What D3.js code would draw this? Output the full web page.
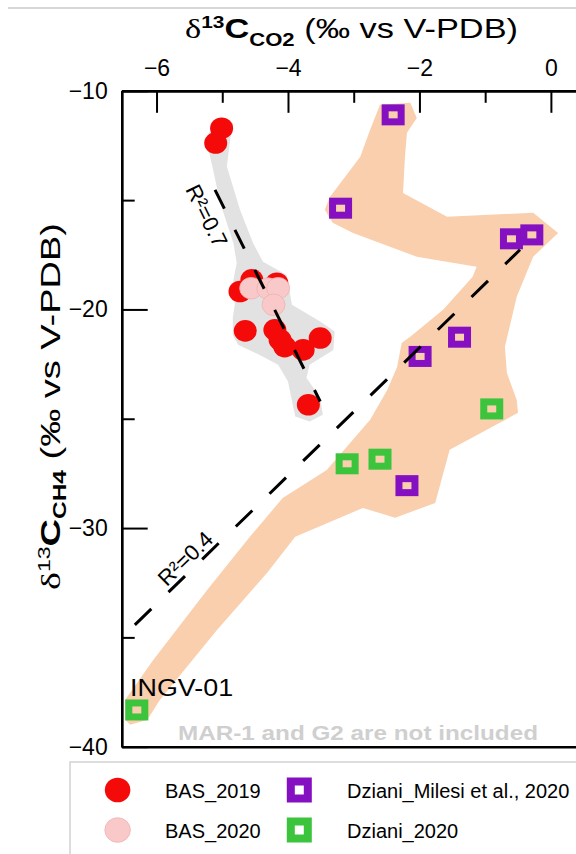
<!DOCTYPE html>
<html>
<head>
<meta charset="utf-8">
<script src="https://cdn.jsdelivr.net/npm/d3@7"></script>
<style>
  html, body { margin: 0; padding: 0; background: #fff; overflow: hidden; }
  svg { display: block; overflow: hidden; font-family: "Liberation Sans", Arial, sans-serif; }
</style>
</head>
<body>
<svg id="chart" width="576" height="854"></svg>
<script>
// δ13C of CO2 (x) against δ13C of CH4 (y), ‰ vs V-PDB

// BAS_2019 samples [δ13C-CO2, δ13C-CH4]
const bas2019 = [
  [-5.01, -11.71], [-5.10, -12.39], [-4.55, -18.65], [-4.17, -18.80],
  [-4.73, -19.18], [-4.65, -20.98], [-4.20, -20.93], [-4.12, -21.39],
  [-4.05, -21.70], [-3.77, -21.85], [-3.51, -21.31], [-3.69, -24.36]
];
// BAS_2020 samples
const bas2020 = [
  [-4.56, -19.03], [-4.30, -19.05], [-4.15, -19.03], [-4.22, -19.79]
];
// Dziani, Milesi et al., 2020
const dzianiMilesi = [
  [-2.40, -11.10], [-3.20, -15.37], [-0.60, -16.77], [-0.29, -16.59],
  [-1.39, -21.27], [-1.99, -22.15], [-2.19, -28.06]
];
// Dziani_2020 (the first one is INGV-01)
const dziani2020 = [
  [-6.30, -38.32], [-0.90, -24.55], [-3.10, -27.06], [-2.60, -26.85]
];

// Envelope around the BAS samples
const basEnvelope = [
  [-5.21, -11.94], [-5.03, -11.33], [-4.83, -11.48], [-4.88, -12.24],
  [-4.93, -13.46], [-4.73, -15.44], [-4.53, -16.97], [-4.38, -17.82],
  [-4.02, -18.42], [-3.94, -19.79], [-3.51, -20.55], [-3.29, -21.01],
  [-3.31, -21.85], [-3.67, -22.53], [-3.72, -23.13], [-3.51, -24.04],
  [-3.47, -24.82], [-3.67, -25.13], [-3.89, -24.90], [-4.00, -23.30],
  [-4.15, -22.53], [-4.43, -22.08], [-4.76, -21.62], [-4.84, -21.16],
  [-4.84, -20.38], [-4.81, -19.79], [-4.83, -18.65], [-4.78, -17.88],
  [-4.83, -16.97], [-5.03, -15.14], [-5.14, -13.61], [-5.21, -12.70]
];
// Envelope around the Dziani samples
const dzianiEnvelope = [
  [-2.60, -10.64], [-2.75, -11.78], [-2.90, -13.02], [-3.36, -14.85],
  [-3.44, -15.44], [-3.32, -16.04], [-3.01, -16.50], [-2.04, -17.59],
  [-1.13, -18.05], [-1.19, -18.51], [-1.64, -20.02], [-2.14, -21.25],
  [-2.27, -21.53], [-2.34, -22.63], [-2.49, -23.68], [-2.75, -25.05],
  [-3.41, -27.34], [-4.08, -28.62], [-4.58, -30.40], [-5.23, -32.83],
  [-6.05, -36.03], [-6.48, -37.86], [-6.48, -38.77], [-6.40, -39.00],
  [-6.14, -38.77], [-5.95, -37.86], [-5.08, -34.66], [-4.32, -32.05],
  [-3.89, -30.40], [-2.86, -29.08], [-2.37, -29.53], [-1.76, -28.85],
  [-1.54, -26.42], [-0.50, -24.73], [-0.52, -24.14], [-0.67, -22.90],
  [-0.70, -21.71], [-0.52, -19.42], [-0.27, -17.59], [0.11, -16.50],
  [-0.27, -15.58], [-1.58, -15.76], [-2.25, -14.67], [-2.22, -13.02],
  [-2.19, -11.92], [-2.04, -11.24], [-2.14, -10.55]
];

// Regression trends: end points and label anchor
const trendNames = ["R²=0.7", "R²=0.4"];
const trendStart = [[-5.11, -14.53], [-6.33, -34.43]];
const trendEnd = [[-3.51, -24.21], [-0.47, -17.27]];
const trendLabelAt = [[-5.24, -15.72], [-5.56, -31.40]];

// Axis ticks
const xMajorTicks = [-6, -4, -2, 0];
const xMinorTicks = [-5, -3, -1];
const yMajorTicks = [-10, -20, -30, -40];
const yMinorTicks = [-15, -25, -35];

const legendNames = ["BAS_2019", "BAS_2020", "Dziani_Milesi et al., 2020", "Dziani_2020"];
const sampleLabel = "INGV-01";
const footNote = "MAR-1 and G2 are not included";

// ---------------------------------------------------------------
const W = 576;
const svg = d3.select("#chart");
// visible part of the plot: its right side is cut by the page edge
const x = d3.scaleLinear().domain([-6.53, 0.382]).range([121.7, W]);
const y = d3.scaleLinear().domain([-10, -40]).range([90.8, 746.7]);

const RED = "#f50a0a", PINK = "#f9c8c8", PURPLE = "#8410c2", GREEN = "#3cc43c";
const fmt = d3.format("d");

// thin rule across the top of the figure
svg.append("line")
  .attr("x1", 8).attr("x2", W).attr("y1", 8).attr("y2", 8)
  .attr("stroke", "#c9c9c9").attr("stroke-width", 1.5);

// envelopes
const area = d3.line().x(d => x(d[0])).y(d => y(d[1])).curve(d3.curveLinearClosed);
svg.append("path").attr("d", area(dzianiEnvelope)).attr("fill", "#f9cfae");
svg.append("path").attr("d", area(basEnvelope)).attr("fill", "#e2e2e2");

// axes
const axisStyle = g => {
  g.select(".domain").attr("stroke", "#000").attr("stroke-width", 2.4);
  g.selectAll(".tick line").attr("stroke", "#000").attr("stroke-width", 2);
  g.selectAll(".tick text").attr("fill", "#000")
    .attr("font-family", "'Liberation Sans', Arial, sans-serif").attr("font-size", 23);
};

svg.append("g").attr("transform", `translate(0,${y(-10)})`)
  .call(d3.axisTop(x).tickValues(xMinorTicks).tickSizeInner(-12).tickSizeOuter(0).tickFormat(""))
  .call(axisStyle);
svg.append("g").attr("transform", `translate(0,${y(-10)})`)
  .call(d3.axisTop(x).tickValues(xMajorTicks).tickSizeInner(-22).tickSizeOuter(0)
    .tickPadding(15).tickFormat(fmt))
  .call(axisStyle);

svg.append("g").attr("transform", `translate(${x(-6.53)},0)`)
  .call(d3.axisLeft(y).tickValues(yMinorTicks).tickSizeInner(-13).tickSizeOuter(0).tickFormat(""))
  .call(axisStyle);
svg.append("g").attr("transform", `translate(${x(-6.53)},0)`)
  .call(d3.axisLeft(y).tickValues(yMajorTicks).tickSizeInner(-26).tickSizeOuter(0)
    .tickPadding(14).tickFormat(fmt))
  .call(axisStyle);

svg.append("g").attr("transform", `translate(0,${y(-40)})`)
  .call(d3.axisBottom(x).tickValues([]).tickSizeOuter(0))
  .call(axisStyle);

// axis titles
const topTitle = svg.append("text")
  .attr("x", 185).attr("y", 38.3).attr("font-size", 28).attr("fill", "#000")
  .attr("textLength", 333).attr("lengthAdjust", "spacingAndGlyphs");
topTitle.append("tspan").attr("font-family", "'Liberation Serif', serif").text("δ");
topTitle.append("tspan").attr("font-size", 17).attr("font-weight", "bold").attr("dy", -10).text("13");
topTitle.append("tspan").attr("font-weight", "bold").attr("dy", 10).text("C");
topTitle.append("tspan").attr("font-size", 18).attr("font-weight", "bold").attr("dy", 8).text("CO2");
topTitle.append("tspan").attr("dy", -8).text(" (‰ vs V-PDB)");

const leftTitle = svg.append("text")
  .attr("transform", "translate(60,590) rotate(-90)")
  .attr("font-size", 28).attr("fill", "#000")
  .attr("textLength", 367).attr("lengthAdjust", "spacingAndGlyphs");
leftTitle.append("tspan").attr("font-family", "'Liberation Serif', serif").text("δ");
leftTitle.append("tspan").attr("font-size", 17).attr("dy", -10).text("13");
leftTitle.append("tspan").attr("font-weight", "bold").attr("dy", 10).text("C");
leftTitle.append("tspan").attr("font-size", 18).attr("font-weight", "bold").attr("dy", 6).text("CH4");
leftTitle.append("tspan").attr("dy", -6).text(" (‰ vs V-PDB)");

// samples
const squareMarks = (data, color) => svg.append("g").selectAll("rect").data(data).join("rect")
  .attr("x", d => x(d[0]) - 8).attr("y", d => y(d[1]) - 7)
  .attr("width", 16).attr("height", 14)
  .attr("fill", "none").attr("stroke", color).attr("stroke-width", 7);

svg.append("g").selectAll("ellipse").data(bas2019).join("ellipse")
  .attr("cx", d => x(d[0])).attr("cy", d => y(d[1]))
  .attr("rx", 11.5).attr("ry", 10.8).attr("fill", RED);
svg.append("g").selectAll("ellipse").data(bas2020).join("ellipse")
  .attr("cx", d => x(d[0])).attr("cy", d => y(d[1]))
  .attr("rx", 11.5).attr("ry", 10.8).attr("fill", PINK)
  .attr("stroke", "#eeb2b2").attr("stroke-width", 0.8);
squareMarks(dzianiMilesi, PURPLE);
squareMarks(dziani2020, GREEN);

// regression trends
const dashes = ["21,23.7", "23,24"];
trendNames.forEach((name, i) => {
  const [x1, y1] = [x(trendStart[i][0]), y(trendStart[i][1])];
  const [x2, y2] = [x(trendEnd[i][0]), y(trendEnd[i][1])];
  svg.append("line")
    .attr("x1", x1).attr("y1", y1).attr("x2", x2).attr("y2", y2)
    .attr("stroke", "#000").attr("stroke-width", 3)
    .attr("stroke-dasharray", dashes[i]);
  const angle = Math.atan2(y2 - y1, x2 - x1) * 180 / Math.PI;
  const lx = x(trendLabelAt[i][0]), ly = y(trendLabelAt[i][1]);
  svg.append("text")
    .attr("transform", `translate(${lx},${ly}) rotate(${angle})`)
    .attr("text-anchor", "middle").attr("dominant-baseline", "central")
    .attr("font-size", 22).attr("fill", "#000")
    .text(name);
});

// sample name and footnote
svg.append("text")
  .attr("x", x(dziani2020[0][0]) - 6.7).attr("y", 696)
  .attr("font-size", 23).attr("fill", "#000")
  .attr("textLength", 103).attr("lengthAdjust", "spacingAndGlyphs")
  .text(sampleLabel);
svg.append("text")
  .attr("x", 178).attr("y", 740)
  .attr("font-size", 21).attr("font-weight", "bold").attr("fill", "#cfcfcf")
  .attr("textLength", 360).attr("lengthAdjust", "spacingAndGlyphs")
  .text(footNote);

// legend box: top and left edges (the rest lies beyond the page)
svg.append("path")
  .attr("d", `M70,854V762H${W}`)
  .attr("fill", "none").attr("stroke", "#d2d2d2").attr("stroke-width", 1.5);

const legendRows = [790, 830];
[RED, PINK].forEach((c, i) => {
  svg.append("ellipse")
    .attr("cx", 117.6).attr("cy", legendRows[i]).attr("rx", 12.8).attr("ry", 12.3)
    .attr("fill", c).attr("stroke", i ? "#eeb2b2" : "none").attr("stroke-width", 0.8);
  svg.append("text").attr("x", 165).attr("y", legendRows[i] + 8)
    .attr("font-size", 20).attr("fill", "#000").text(legendNames[i]);
});
[PURPLE, GREEN].forEach((c, i) => {
  svg.append("rect")
    .attr("x", 299.3 - 8.5).attr("y", legendRows[i] - 8.5).attr("width", 17).attr("height", 17)
    .attr("fill", "none").attr("stroke", c).attr("stroke-width", 8);
  svg.append("text").attr("x", 347).attr("y", legendRows[i] + 8)
    .attr("font-size", 20).attr("fill", "#000").text(legendNames[i + 2]);
});
</script>
</body>
</html>
